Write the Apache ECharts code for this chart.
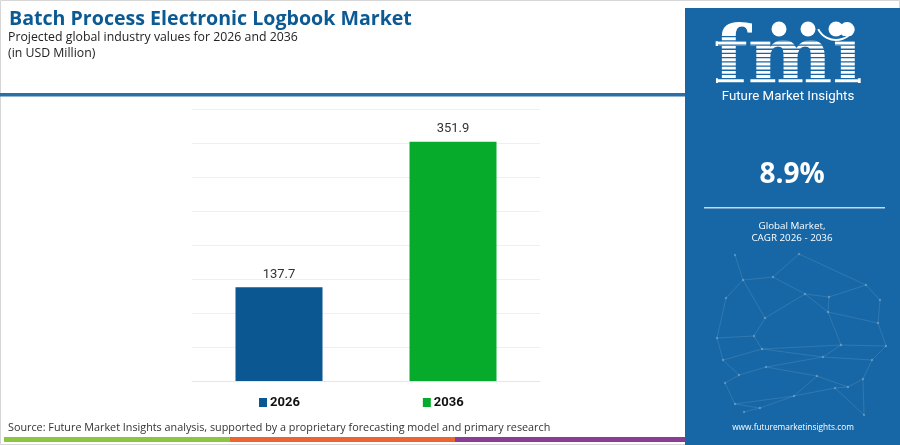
<!DOCTYPE html>
<html>
<head>
<meta charset="utf-8">
<script src="https://cdn.jsdelivr.net/npm/echarts@6/dist/echarts.min.js"></script>
<style>
html,body{margin:0;padding:0;background:#fff;}
#chart{width:900px;height:445px;}
</style>
</head>
<body>
<div id="chart"></div>
<script>
const categories = ['2026', '2036'];
const values = [137.7, 351.9];
const barColors = ['#0a5791', '#06ab2c'];
const yTicks = { min: 0, max: 400, interval: 50 };

const titleText = 'Batch Process Electronic Logbook Market';
const subtitle1 = 'Projected global industry values for 2026 and 2036';
const subtitle2 = '(in USD Million)';
const cagrText = '8.9%';
const cagrLabel1 = 'Global Market,';
const cagrLabel2 = 'CAGR 2026 - 2036';
const sourceText = 'Source: Future Market Insights analysis, supported by a proprietary forecasting model and primary research';
const siteText = 'www.futuremarketinsights.com';

const chart = echarts.init(document.getElementById('chart'), null, {renderer: 'canvas'});

const panelX = 685, panelBlue = '#1767a6';

const series = categories.map((c, i) => ({
  name: c,
  type: 'bar',
  stack: 'all',
  barWidth: '50%',
  data: categories.map((_, j) => j === i ? values[i] : '-'),
  itemStyle: { color: barColors[i] },
  label: {
    show: true, position: 'top', distance: 6,
    color: '#333', fontSize: 13, fontFamily: 'Roboto',
    formatter: p => p.value.toFixed(1)
  }
}));

// decorative network in panel
const netPts = [[735,255],[799,254],[773,277],[866,285],[726,298],[743,280],[805,294],[829,297],[880,300],[765,318],[828,312],[878,323],[717,338],[754,336],[762,349],[841,345],[886,346],[723,360],[823,357],[872,360],[739,375],[766,367],[817,376],[848,387],[863,379],[725,383],[794,396],[835,388],[735,404],[760,408],[864,415],[744,412]];
const netEdges = [[0,5],[5,2],[2,1],[1,3],[2,6],[6,7],[7,3],[3,8],[4,5],[5,9],[9,6],[6,10],[10,7],[10,11],[8,11],[4,12],[12,13],[13,9],[13,14],[14,15],[15,10],[15,16],[11,16],[12,17],[17,14],[14,18],[18,15],[18,19],[16,19],[17,20],[20,21],[21,18],[21,22],[22,23],[23,24],[19,24],[20,25],[25,28],[28,26],[26,22],[26,27],[27,23],[28,29],[29,31],[26,29],[24,30],[27,30]];
const netGraphics = [];
netEdges.forEach(e => {
  const a = netPts[e[0]], b = netPts[e[1]];
  netGraphics.push({ type: 'line', shape: {x1:a[0], y1:a[1], x2:b[0], y2:b[1]}, style: {stroke: 'rgba(255,255,255,0.14)', lineWidth: 0.8}, silent: true, z: 6 });
});
netPts.forEach(p => netGraphics.push({ type: 'circle', shape: {cx:p[0], cy:p[1], r:1.2}, style: {fill:'rgba(255,255,255,0.25)'}, silent: true, z: 6 }));

// stripes over logo letters
const logoStripes = [];
for (let y = 36; y < 86; y += 4.2) {
  logoStripes.push({ type: 'rect', shape: {x: 718, y: y, width: 140, height: 1.3}, style: {fill: panelBlue}, silent: true, z: 12 });
}

chart.setOption({
  animation: false,
  backgroundColor: '#fff',
  grid: { left: 192, right: 360, top: 109, bottom: 64, containLabel: false },
  xAxis: {
    type: 'category', data: categories,
    axisLine: { show: true, lineStyle: { color: '#e6e6e6' } },
    axisTick: { show: false }, axisLabel: { show: false }
  },
  yAxis: {
    type: 'value', min: yTicks.min, max: yTicks.max, interval: yTicks.interval,
    axisLine: { show: false }, axisTick: { show: false }, axisLabel: { show: false },
    splitLine: { lineStyle: { color: '#efefef', width: 1 } }
  },
  legend: {
    data: categories, bottom: 31, left: 254, itemGap: 123,
    itemWidth: 8, itemHeight: 9, icon: 'rect',
    textStyle: { fontSize: 13, fontWeight: 'bold', color: '#111', fontFamily: 'Roboto', padding: [0,0,0,-2] }
  },
  series: series,
  graphic: [
    { type: 'rect', shape: {x: 0.5, y: 0.5, width: 899, height: 444}, style: {fill: 'none', stroke: '#d6d6d6', lineWidth: 1}, silent: true, z: 1 },
    { type: 'text', left: 9, top: 9, style: { text: titleText, fontSize: 19.6, fontWeight: 'bold', fontFamily: 'Open Sans', fill: '#0c5a94' }, z: 10 },
    { type: 'text', left: 8, top: 31, style: { text: subtitle1, fontSize: 12.3, fontFamily: 'Open Sans', fill: '#222' }, z: 10 },
    { type: 'text', left: 8, top: 47, style: { text: subtitle2, fontSize: 12.3, fontFamily: 'Open Sans', fill: '#222' }, z: 10 },
    { type: 'rect', shape: {x: 0, y: 93, width: panelX, height: 3.5}, style: {fill: '#2b6fa8'}, silent: true, z: 10 },
    { type: 'text', left: 8, top: 422, style: { text: sourceText, fontSize: 10.8, fontFamily: 'Open Sans', fill: '#333' }, z: 10 },
    { type: 'rect', shape: {x: 4, y: 437, width: 226, height: 5}, style: {fill: '#8cc540'}, silent: true, z: 10 },
    { type: 'rect', shape: {x: 230, y: 437, width: 225, height: 5}, style: {fill: '#ec6430'}, silent: true, z: 10 },
    { type: 'rect', shape: {x: 455, y: 437, width: 230, height: 5}, style: {fill: '#8b3d96'}, silent: true, z: 10 },
    { type: 'rect', shape: {x: panelX, y: 8, width: 900 - panelX, height: 437}, style: {fill: panelBlue}, silent: true, z: 5 },
    ...netGraphics,
    { type: 'text', x: 788, y: 62, style: { text: 'fmi', fontSize: 80, fontWeight: 'bold', fontFamily: 'DejaVu Serif', fill: '#fff', align: 'center', verticalAlign: 'middle' }, z: 11 },
    ...logoStripes,
    { type: 'circle', shape: {cx: 779, cy: 29, r: 7.5}, style: {fill: '#fff'}, z: 13 },
    { type: 'circle', shape: {cx: 808, cy: 29, r: 7.5}, style: {fill: '#fff'}, z: 13 },
    { type: 'circle', shape: {cx: 836, cy: 29, r: 7.5}, style: {fill: '#fff'}, z: 13 },
    { type: 'arc', shape: {cx: 836, cy: 20, r: 20, startAngle: Math.PI * 0.15, endAngle: Math.PI * 0.85}, style: {stroke: '#fff', lineWidth: 2, fill: 'none'}, z: 13 },
    { type: 'text', x: 788, y: 97, style: { text: 'Future Market Insights', fontSize: 13.3, fontFamily: 'Roboto', fill: '#fff', align: 'center', verticalAlign: 'middle' }, z: 11 },
    { type: 'text', x: 792, y: 175, style: { text: cagrText, fontSize: 28, fontWeight: 'bold', fontFamily: 'Open Sans', fill: '#fff', align: 'center', verticalAlign: 'middle' }, z: 11 },
    { type: 'rect', shape: {x: 704, y: 207, width: 181, height: 1.5}, style: {fill: 'rgba(255,255,255,0.75)'}, z: 11 },
    { type: 'text', x: 792, y: 226, style: { text: cagrLabel1, fontSize: 9.8, fontFamily: 'Open Sans', fill: '#fff', align: 'center', verticalAlign: 'middle' }, z: 11 },
    { type: 'text', x: 792, y: 238, style: { text: cagrLabel2, fontSize: 9.8, fontFamily: 'Open Sans', fill: '#fff', align: 'center', verticalAlign: 'middle' }, z: 11 },
    { type: 'text', x: 793, y: 428, style: { text: siteText, fontSize: 8.3, fontFamily: 'Open Sans', fill: '#fff', align: 'center', verticalAlign: 'middle' }, z: 11 }
  ]
});
</script>
</body>
</html>
